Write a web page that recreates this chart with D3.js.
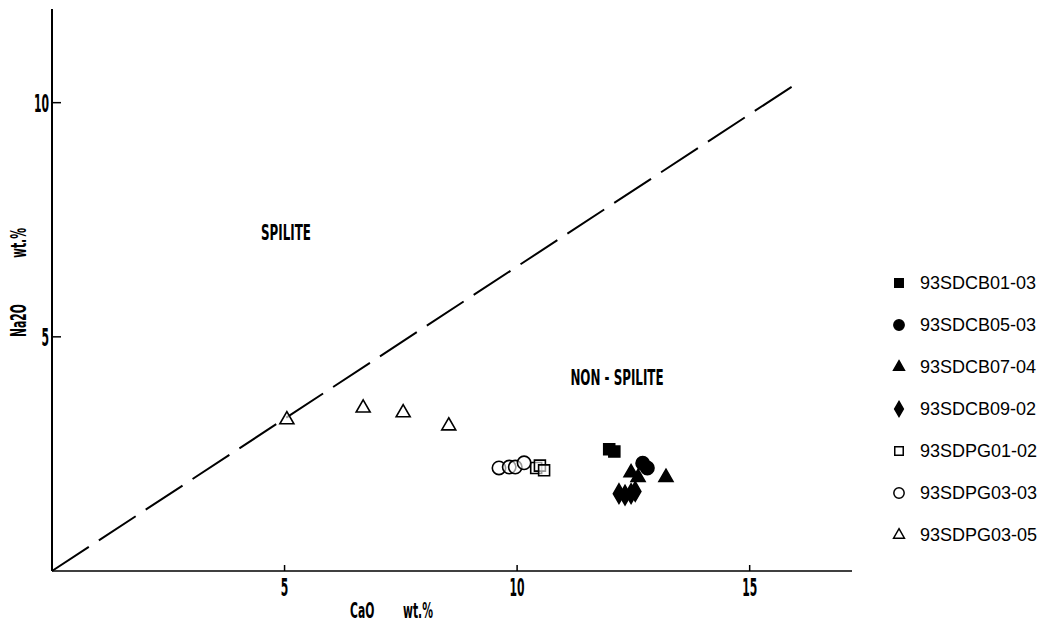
<!DOCTYPE html>
<html>
<head>
<meta charset="utf-8">
<script src="https://cdn.jsdelivr.net/npm/d3@7"></script>
<style>
  body { margin: 0; background: #fff; }
  .cond { font-family: "DejaVu Sans Condensed", "DejaVu Sans", sans-serif; font-weight: bold; }
</style>
</head>
<body>
<div id="chart"></div>
<script>
// samples, legend order
const samples = ["93SDCB01-03", "93SDCB05-03", "93SDCB07-04", "93SDCB09-02", "93SDPG01-02", "93SDPG03-03", "93SDPG03-05"];
const shapes = ["square", "circle", "triangle", "diamond", "square", "circle", "triangle"];
const filled = [true, true, true, true, false, false, false];

// CaO / Na2O (wt.%) per sample
const cao = [
  [11.98, 12.09],
  [12.7, 12.8],
  [12.45, 12.6, 13.2],
  [12.19, 12.32, 12.45, 12.54],
  [10.41, 10.49, 10.58],
  [9.61, 9.83, 9.96, 10.15],
  [5.05, 6.69, 7.55, 8.53]
];
const na2o = [
  [2.6, 2.55],
  [2.3, 2.2],
  [2.1, 2.0, 2.0],
  [1.65, 1.62, 1.65, 1.7],
  [2.2, 2.25, 2.15],
  [2.2, 2.22, 2.22, 2.31],
  [3.23, 3.48, 3.38, 3.1]
];

const xTicks = [5, 10, 15];
const yTicks = [5, 10];
// spilite / non-spilite boundary
const divider = [[0, 0], [15.95, 10.37]];

const W = 1051, H = 627;
const svg = d3.select("#chart").append("svg")
  .attr("width", W).attr("height", H)
  .style("background", "#fff");

const x = d3.scaleLinear().domain([0, 17.2]).range([52, 852]);
const y = d3.scaleLinear().domain([0, 12]).range([571, 9]);

function condText(tx, ty, str, size, sx, anchor, rot) {
  return svg.append("text")
    .attr("class", "cond")
    .attr("transform", `translate(${tx},${ty})` + (rot ? ` rotate(${rot})` : "") + ` scale(${sx},1)`)
    .attr("text-anchor", anchor || "middle")
    .style("font-size", size + "px")
    .text(str);
}

// === Axes ===
svg.append("line")
  .attr("x1", x(0)).attr("x2", x(0))
  .attr("y1", y(0)).attr("y2", y(12))
  .attr("stroke", "#000").attr("stroke-width", 2);
svg.append("line")
  .attr("x1", x(0)).attr("x2", x(17.2))
  .attr("y1", y(0)).attr("y2", y(0))
  .attr("stroke", "#000").attr("stroke-width", 1.5);

xTicks.forEach(t => {
  svg.append("line")
    .attr("x1", x(t)).attr("x2", x(t))
    .attr("y1", y(0)).attr("y2", y(0) - 6)
    .attr("stroke", "#000").attr("stroke-width", 1.5);
  condText(x(t), y(0) + 25, t, 24, 0.5);
});

yTicks.forEach(t => {
  svg.append("line")
    .attr("x1", x(0)).attr("x2", x(0) + 9)
    .attr("y1", y(t)).attr("y2", y(t))
    .attr("stroke", "#000").attr("stroke-width", 1.5);
  condText(x(0) - 3, y(t) + 9, t, 24, 0.5, "end");
});

// axis titles
condText(350, 618, "CaO", 21, 0.57, "start");
condText(403, 618, "wt.%", 21, 0.57, "start");
condText(26, 337, "Na2O", 21, 0.57, "start", -90);
condText(26, 258, "wt.%", 21, 0.57, "start", -90);

// field labels
condText(286, 240, "SPILITE", 21, 0.63);
condText(617, 385, "NON - SPILITE", 21, 0.63);

// === Boundary line ===
svg.append("line")
  .attr("x1", x(divider[0][0])).attr("y1", y(divider[0][1]))
  .attr("x2", x(divider[1][0])).attr("y2", y(divider[1][1]))
  .attr("stroke", "#000").attr("stroke-width", 2)
  .attr("stroke-dasharray", "44,12");

// === Points ===
const symType = {
  square: d3.symbolSquare,
  circle: d3.symbolCircle,
  triangle: d3.symbolTriangle,
  diamond: d3.symbolDiamond
};
const symSize = { square: 120, circle: 140, triangle: 85, diamond: 110 };

function sym(i, scale) {
  return d3.symbol().type(symType[shapes[i]]).size(symSize[shapes[i]] * (scale || 1))();
}

samples.forEach((s, i) => {
  const pts = cao[i].map((c, j) => ({ c, n: na2o[i][j] }));
  svg.append("g")
    .selectAll("path")
    .data(pts)
    .enter()
    .append("path")
    .attr("d", sym(i))
    .attr("transform", d => `translate(${x(d.c)},${y(d.n)})`)
    .attr("fill", filled[i] ? "#000" : "#fff")
    .attr("fill-opacity", filled[i] ? 1 : 0.6)
    .attr("stroke", "#000")
    .attr("stroke-width", 1.6);
});

// === Legend ===
const legend = svg.append("g");
samples.forEach((s, i) => {
  const ly = 283 + i * 42;
  legend.append("path")
    .attr("d", sym(i, 0.6))
    .attr("transform", `translate(${899},${ly})`)
    .attr("fill", filled[i] ? "#000" : "#fff")
    .attr("stroke", "#000")
    .attr("stroke-width", 1.5);
  legend.append("text")
    .attr("x", 920)
    .attr("y", ly + 6)
    .style("font-family", "'Liberation Sans', Arial, sans-serif")
    .style("font-size", "18px")
    .text(s);
});
</script>
</body>
</html>
